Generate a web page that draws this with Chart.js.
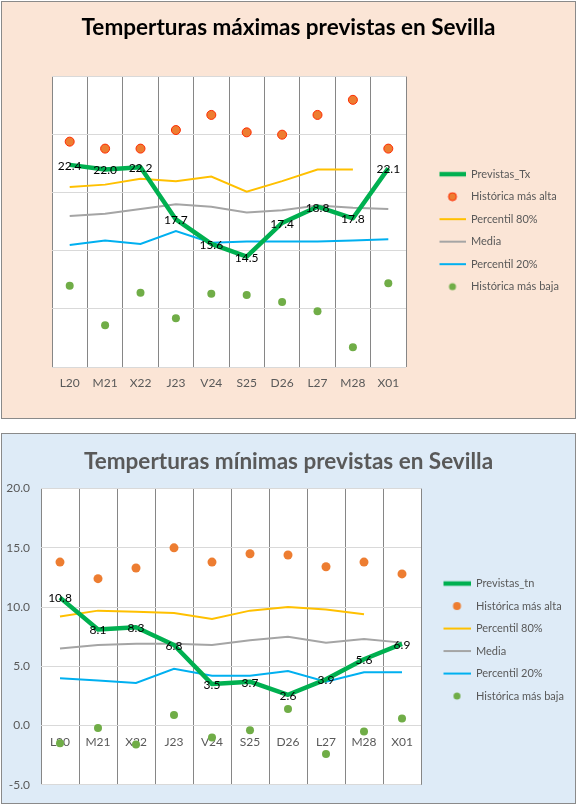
<!DOCTYPE html>
<html>
<head>
<meta charset="utf-8">
<script src="https://cdn.jsdelivr.net/npm/chart.js@4"></script>
<style>
  body { margin: 0; background: #fff; width: 583px; height: 811px; position: relative; }
  .box { position: absolute; left: 1px; width: 575px; border: 1px solid #8a8a8a; box-sizing: border-box; }
  #box-max { top: 1px; height: 418px; background: #fbe5d6; }
  #box-min { top: 433px; height: 371px; background: #deebf7; }
  canvas { display: block; }
</style>
</head>
<body>
<div class="box" id="box-max"><canvas id="chart-max" width="573" height="416"></canvas></div>
<div class="box" id="box-min"><canvas id="chart-min" width="573" height="369"></canvas></div>
<script>
// dias de la prevision
const days = ['L20', 'M21', 'X22', 'J23', 'V24', 'S25', 'D26', 'L27', 'M28', 'X01'];

// maximas
const prevTx = [22.4, 22.0, 22.2, 17.7, 15.6, 14.5, 17.4, 18.8, 17.8, 22.1];
const highTx = [24.4, 23.8, 23.8, 25.4, 26.7, 25.2, 25.0, 26.7, 28.0, 23.8];
const p80Tx = [20.5, 20.7, 21.2, 21.0, 21.4, 20.1, 21.0, 22.0, 22.0, null];
const meanTx = [18.0, 18.2, 18.6, 19.0, 18.8, 18.3, 18.5, 18.9, 18.7, 18.6];
const p20Tx = [15.5, 15.9, 15.6, 16.7, 15.7, 15.8, 15.8, 15.8, 15.9, 16.0];
const lowTx = [12.0, 8.6, 11.4, 9.2, 11.3, 11.2, 10.6, 9.8, 6.7, 12.2];

// minimas
const prevTn = [10.8, 8.1, 8.3, 6.8, 3.5, 3.7, 2.6, 3.9, 5.6, 6.9];
const highTn = [13.8, 12.4, 13.3, 15.0, 13.8, 14.5, 14.4, 13.4, 13.8, 12.8];
const p80Tn = [9.2, 9.7, 9.6, 9.5, 9.0, 9.7, 10.0, 9.8, 9.4, null];
const meanTn = [6.5, 6.8, 6.9, 6.9, 6.8, 7.2, 7.5, 7.0, 7.3, 7.0];
const p20Tn = [4.0, 3.8, 3.6, 4.8, 4.2, 4.2, 4.6, 3.7, 4.5, 4.5];
const lowTn = [-1.5, -0.2, -1.6, 0.9, -1.0, -0.4, 1.4, -2.4, -0.5, 0.6];

Chart.defaults.font.family = 'Lato, sans-serif';

const plotBg = {
	id: 'plotBg',
	beforeDraw(chart) {
		const a = chart.chartArea;
		const ctx = chart.ctx;
		ctx.save();
		ctx.fillStyle = '#ffffff';
		ctx.fillRect(a.left, a.top, a.right - a.left, a.bottom - a.top);
		ctx.restore();
	}
};

const valueLabels = {
	id: 'valueLabels',
	afterDatasetsDraw(chart) {
		const ctx = chart.ctx;
		const values = chart.data.datasets[0].data;
		ctx.save();
		ctx.font = '12px Lato, sans-serif';
		ctx.fillStyle = '#000';
		ctx.textAlign = 'center';
		ctx.textBaseline = 'middle';
		chart.getDatasetMeta(0).data.forEach((pt, i) => {
			ctx.fillText(values[i].toFixed(1), pt.x, pt.y + 1);
		});
		ctx.restore();
	}
};

// la leyenda de la derecha queda limitada a 1/4 del ancho; se fija su ancho a mano
const legendWidth = {
	id: 'legendWidth',
	afterInit(chart, args, opts) {
		const legend = chart.legend;
		const fit = legend.fit;
		legend.fit = function () {
			fit.call(this);
			this.width = opts.width;
		};
	}
};

// muestra de la leyenda: linea o punto, a la derecha de un lienzo de ancho w
function legendSample(ds, w, lineStart) {
	const c = document.createElement('canvas');
	c.width = w;
	c.height = 10;
	const g = c.getContext('2d');
	if (ds.showLine === false) {
		g.beginPath();
		g.arc((lineStart + w) / 2, 5, ds.pointRadius - 0.5, 0, Math.PI * 2);
		g.fillStyle = ds.pointBackgroundColor;
		g.fill();
		if (ds.pointBorderWidth) {
			g.lineWidth = ds.pointBorderWidth;
			g.strokeStyle = ds.pointBorderColor;
			g.stroke();
		}
	} else {
		g.beginPath();
		g.moveTo(lineStart, 5);
		g.lineTo(w, 5);
		g.lineWidth = ds.borderWidth;
		g.strokeStyle = ds.borderColor;
		g.stroke();
	}
	return c;
}

function makeDatasets(prev, prevLabel, high, p80, mean, p20, low, highBorder) {
	return [
		{ label: prevLabel, data: prev, borderColor: '#00b050', borderWidth: 4.5, pointRadius: 0, borderJoinStyle: 'round' },
		{ label: 'Histórica más alta', data: high, showLine: false, pointRadius: 4.5, pointBackgroundColor: '#ed7d31',
			pointBorderColor: highBorder ? '#ff2a00' : '#ed7d31', pointBorderWidth: highBorder ? 1 : 0 },
		{ label: 'Percentil 80%', data: p80, borderColor: '#ffc000', borderWidth: 2, pointRadius: 0 },
		{ label: 'Media', data: mean, borderColor: '#a5a5a5', borderWidth: 2, pointRadius: 0 },
		{ label: 'Percentil 20%', data: p20, borderColor: '#00b0f0', borderWidth: 2, pointRadius: 0 },
		{ label: 'Histórica más baja', data: low, showLine: false, pointRadius: 4, pointBackgroundColor: '#70ad47',
			pointBorderColor: '#70ad47', pointBorderWidth: 0 }
	];
}

function legendOptions(w, lineStart, shift) {
	return {
		position: 'right',
		fullSize: false,
		title: { display: shift > 0, text: '', padding: { top: shift / 2, bottom: shift / 2 }, font: { size: 1 } },
		labels: {
			usePointStyle: true,
			pointStyleWidth: w,
			padding: 11.5,
			color: '#595959',
			font: { size: 11 },
			generateLabels(chart) {
				return chart.data.datasets.map((ds, i) => ({
					text: ds.label,
					pointStyle: legendSample(ds, w, lineStart),
					fillStyle: 'rgba(0,0,0,0)',
					strokeStyle: 'rgba(0,0,0,0)',
					lineWidth: 0,
					hidden: false,
					datasetIndex: i,
					fontColor: '#595959'
				}));
			}
		}
	};
}

new Chart(document.getElementById('chart-max'), {
	type: 'line',
	data: {
		labels: days,
		datasets: makeDatasets(prevTx, 'Previstas_Tx', highTx, p80Tx, meanTx, p20Tx, lowTx, true)
	},
	options: {
		responsive: false,
		animation: false,
		layout: { padding: { left: 0, right: 0, top: 0, bottom: 18.6 } },
		scales: {
			x: {
				offset: true,
				grid: { offset: true, color: '#868686', drawTicks: false },
				border: { display: false },
				ticks: { color: '#595959', font: { size: 12 }, padding: 9 }
			},
			y: {
				min: 5,
				max: 30,
				ticks: { stepSize: 5, display: false },
				grid: { color: '#d9d9d9', drawTicks: false },
				border: { display: false },
				afterFit: s => { s.width = 50; }
			}
		},
		plugins: {
			title: {
				display: true,
				text: 'Temperturas máximas previstas en Sevilla',
				color: '#000',
				font: { size: 22.5, weight: 'bold' },
				padding: { top: 12, bottom: 35.6 }
			},
			legend: legendOptions(48, 22, 16),
			legendWidth: { width: 169 },
			tooltip: { enabled: false }
		}
	},
	plugins: [plotBg, valueLabels, legendWidth]
});

new Chart(document.getElementById('chart-min'), {
	type: 'line',
	data: {
		labels: days,
		datasets: makeDatasets(prevTn, 'Previstas_tn', highTn, p80Tn, meanTn, p20Tn, lowTn, false)
	},
	options: {
		responsive: false,
		animation: false,
		layout: { padding: { left: 0, right: 0, top: 0, bottom: 15 } },
		scales: {
			x: {
				position: { y: 0 },
				offset: true,
				grid: { offset: true, color: '#868686', drawTicks: false },
				border: { display: false },
				ticks: { color: '#595959', font: { size: 12 }, padding: 9 }
			},
			y: {
				min: -5,
				max: 20,
				ticks: { stepSize: 5, color: '#595959', font: { size: 12 }, padding: 11, callback: v => v.toFixed(1) },
				grid: { color: '#d9d9d9', drawTicks: false },
				border: { display: false },
				afterFit: s => { s.width = 39; }
			}
		},
		plugins: {
			title: {
				display: true,
				text: 'Temperturas mínimas previstas en Sevilla',
				color: '#595959',
				font: { size: 22.5, weight: 'bold' },
				padding: { top: 14, bottom: 13.6 }
			},
			legend: legendOptions(38, 11, 5),
			legendWidth: { width: 154 },
			tooltip: { enabled: false }
		}
	},
	plugins: [plotBg, valueLabels, legendWidth]
});
</script>
</body>
</html>
